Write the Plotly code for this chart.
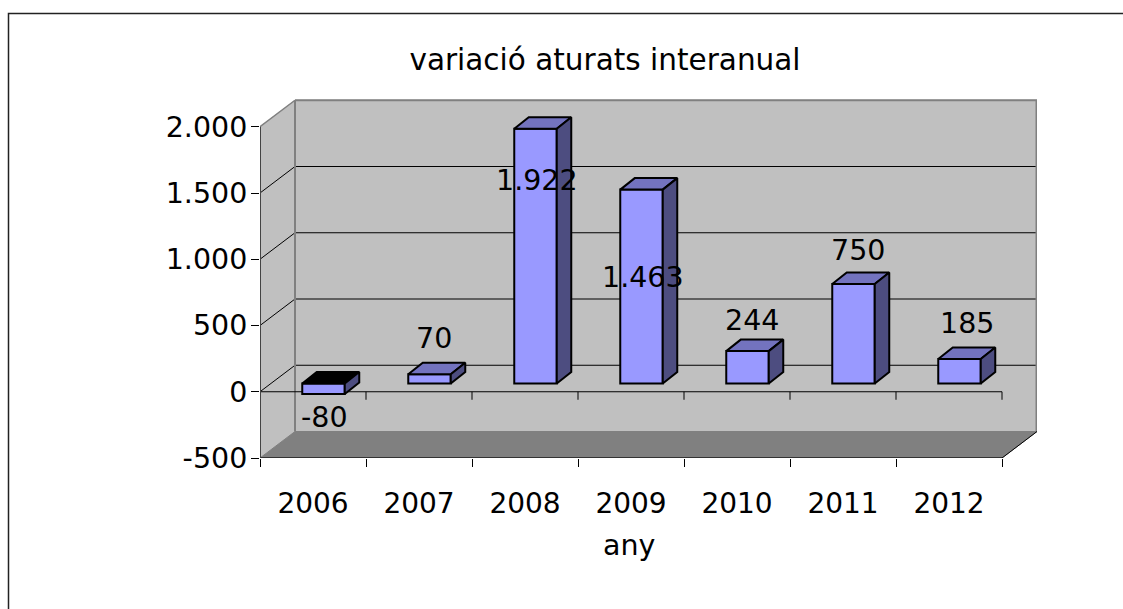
import plotly.graph_objects as go

# ---- data ----
years = ["2006", "2007", "2008", "2009", "2010", "2011", "2012"]
values = [-80, 70, 1922, 1463, 244, 750, 185]
y_ticks = [-500, 0, 500, 1000, 1500, 2000]
y_tick_labels = ["-500", "0", "500", "1.000", "1.500", "2.000"]
value_labels = ["-80", "70", "1.922", "1.463", "244", "750", "185"]
title_text = "variació aturats interanual"
x_title = "any"

# ---- style / projection of Excel's pseudo-3D look ----
PX_X = 106.0              # pixels per category
PX_Y = 0.1325             # pixels per value unit
L, R, T, B = 260, 1037, 99, 458
FONT = "DejaVu Sans"
FS = 28.5
WALL, FLOOR, GREY = "#C0C0C0", "#808080", "#808080"
FRONT, TOP, SIDE = "#9999FF", "#7373BF", "#4D4D80"
WALL_DX = 35 / PX_X       # wall depth in data units
WALL_DY = 26.5 / PX_Y
BAR_W = 42.5 / PX_X
BAR_SHIFT = 10.5 / PX_X   # bars sit in the middle of the depth
BAR_LIFT = 8.3 / PX_Y
BAR_DX = 14.5 / PX_X      # bar depth
BAR_DY = 11.5 / PX_Y
LABEL_YSHIFT = [-34, 36, -52, -88, 31, 34, 35]   # label centre relative to bar-top front edge, px
LABEL_XSHIFT = [1, 4, 1, 1, 4, 4, 7]

ymin = -500
ymax = ymin + (B - T) / PX_Y
xmax = (R - L) / PX_X
n = len(years)

fig = go.Figure()


def poly(xs, ys, fill, line=None, w=1):
    pts = " L ".join(f"{a},{b}" for a, b in zip(xs, ys))
    fig.add_shape(type="path", path=f"M {pts} Z", xref="x", yref="y", layer="below",
                  fillcolor=fill, line=dict(color=line or fill, width=w))


def seg(x0, y0, x1, y1, color="black", w=1):
    fig.add_shape(type="line", x0=x0, y0=y0, x1=x1, y1=y1, xref="x", yref="y",
                  layer="below", line=dict(color=color, width=w))


# walls and floor
top_v, back_x = y_ticks[-1], WALL_DX
poly([back_x, xmax, xmax, back_x], [ymin + WALL_DY, ymin + WALL_DY, top_v + WALL_DY, top_v + WALL_DY], WALL)
poly([0, back_x, back_x, 0], [ymin, ymin + WALL_DY, top_v + WALL_DY, top_v], WALL)
poly([0, back_x, xmax, n], [ymin, ymin + WALL_DY, ymin + WALL_DY, ymin], FLOOR)

# gridlines on the walls
for t in y_ticks[1:-1]:
    seg(0, t, back_x, t + WALL_DY)
    seg(back_x, t + WALL_DY, xmax, t + WALL_DY)
seg(0, top_v, back_x, top_v + WALL_DY, GREY, 1.5)
seg(back_x, top_v + WALL_DY, xmax, top_v + WALL_DY, GREY, 2)
seg(back_x, ymin + WALL_DY, back_x, top_v + WALL_DY, GREY, 2)
seg(xmax, ymin + WALL_DY, xmax, top_v + WALL_DY, GREY, 3)
seg(n, ymin, xmax, ymin + WALL_DY, "black", 1)
seg(0, ymin, n, ymin, "#333333", 2)

# zero line with its tick marks
seg(0, 0, n, 0)
for i in range(n + 1):
    seg(i, 0, i, -8 / PX_Y)

# bar front faces
fig.add_trace(go.Bar(
    x=[i + 0.5 + BAR_SHIFT for i in range(n)],
    y=values,
    base=[BAR_LIFT] * n,
    width=BAR_W,
    marker=dict(color=FRONT, line=dict(color="black", width=2)),
    hoverinfo="skip",
))

# bar top and side faces
for i, v in enumerate(values):
    x0 = i + 0.5 + BAR_SHIFT - BAR_W / 2
    x1 = x0 + BAR_W
    hi = BAR_LIFT + max(v, 0)
    lo = BAR_LIFT + min(v, 0)
    fig.add_trace(go.Scatter(
        x=[x0, x0 + BAR_DX, x1 + BAR_DX, x1, x0],
        y=[hi, hi + BAR_DY, hi + BAR_DY, hi, hi],
        mode="lines", fill="toself", fillcolor="black" if v < 0 else TOP,
        line=dict(color="black", width=2), hoverinfo="skip",
    ))
    fig.add_trace(go.Scatter(
        x=[x1, x1 + BAR_DX, x1 + BAR_DX, x1, x1],
        y=[hi, hi + BAR_DY, lo + BAR_DY, lo, hi],
        mode="lines", fill="toself", fillcolor=SIDE,
        line=dict(color="black", width=2), hoverinfo="skip",
    ))

# data labels
for i, (v, lab) in enumerate(zip(values, value_labels)):
    fig.add_annotation(
        x=i + 0.5 + BAR_SHIFT, y=BAR_LIFT + max(v, 0), text=lab, showarrow=False,
        xshift=LABEL_XSHIFT[i], yshift=LABEL_YSHIFT[i], font=dict(family=FONT, size=FS, color="black"),
        xanchor="center", yanchor="middle",
    )

# x-axis title sits off-centre relative to the axis box, so it is placed as an annotation
fig.add_annotation(
    xref="paper", yref="paper", x=(629.5 - L) / (R - L), y=(B - 545) / (B - T),
    text=x_title, showarrow=False, xanchor="center", yanchor="middle",
    font=dict(family=FONT, size=FS, color="black"),
)

# chart-area border (runs off the page on the right and bottom)
fig.add_shape(type="rect", xref="paper", yref="paper",
              x0=(8.5 - L) / (R - L), x1=(1200 - L) / (R - L),
              y0=(B - 700) / (B - T), y1=(B - 13.5) / (B - T),
              line=dict(color="#222222", width=1.5), layer="below")

fig.update_layout(
    width=1123, height=609, autosize=False,
    margin=dict(l=L, r=1123 - R, t=T, b=609 - B, pad=0),
    paper_bgcolor="white", plot_bgcolor="white",
    showlegend=False, barmode="overlay",
    font=dict(family=FONT, size=FS, color="black"),
    title=dict(text=title_text, x=605 / 1123, xanchor="center", y=1 - 60 / 609, yanchor="middle",
               font=dict(family=FONT, size=29.5)),
    xaxis=dict(range=[0, xmax], tickmode="array",
               tickvals=[i + 0.5 for i in range(n)], ticktext=years,
               tickfont=dict(family=FONT, size=28),
               ticks="outside", ticklen=20, tickcolor="rgba(0,0,0,0)", showgrid=False, zeroline=False,
               showline=False,
               minor=dict(tickmode="array", tickvals=list(range(n + 1)), ticks="outside",
                          ticklen=8, tickcolor="black", tickwidth=1, showgrid=False)),
    yaxis=dict(range=[ymin, ymax], tickmode="array", tickvals=y_ticks, ticktext=y_tick_labels,
               ticks="outside", ticklen=8, tickcolor="black", tickwidth=1, showgrid=False,
               ticklabelstandoff=-2, zeroline=False, showline=False),
)
seg(0, ymin, 0, top_v, "#444444", 2)

fig.write_html("out.html", post_script="document.body.style.margin='0';document.body.style.overflow='hidden';",
               config={"displayModeBar": False})
